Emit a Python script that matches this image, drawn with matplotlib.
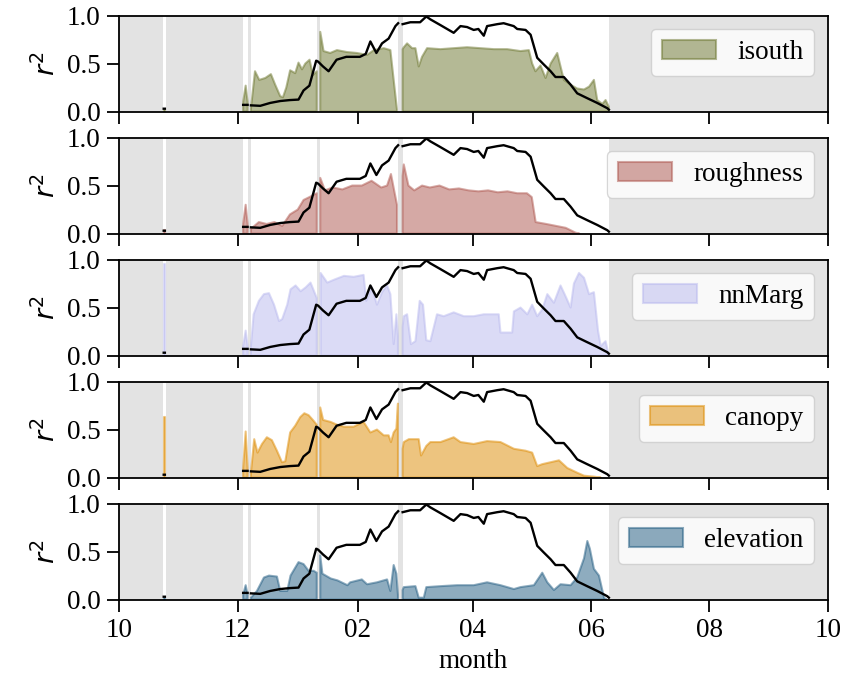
import numpy as np
import matplotlib
matplotlib.use("Agg")
import matplotlib.pyplot as plt
import matplotlib.dates as mdates
import datetime as dt

nan = np.nan

# days since 2018-10-01
start = dt.datetime(2018, 10, 1)
end = dt.datetime(2019, 10, 1)

# periods with no data (shaded grey), in days since start
nodata_spans = [(0, 22.6), (24.0, 63.8), (66.4, 67.8), (101.9, 103.5), (143.8, 146.0), (252.3, 366)]

# normalised reference curve (black line)
line_day = [23.0, 23.6, 44, 63.9, 66.2, 66.8, 67.9, 72.7, 77.8, 83, 88, 92.4, 95, 98, 101.5, 102.5,
            105, 107.9, 112, 117, 124, 127, 129.4, 132.5, 135.4, 138.8, 142.3, 143.7, 144.8, 146, 150,
            155, 158.2, 160.3, 165.5, 172.3, 175.8, 179.2, 182.6, 185, 187.8, 189.5, 194.7, 198, 203.2,
            205, 209.3, 211.9, 215.3, 218.7, 222.2, 224.7, 229, 232.5, 235.9, 241, 246.2, 251.4, 252.2]
line_val = [0.03, 0.03, nan, 0.07, 0.07, nan, 0.065, 0.06, 0.09, 0.11, 0.12, 0.125, 0.22, 0.27, 0.53,
            0.52, 0.47, 0.42, 0.54, 0.57, 0.57, 0.60, 0.73, 0.61, 0.71, 0.76, 0.89, 0.92, nan, 0.91, 0.93,
            0.93, 0.99, 0.96, 0.90, 0.82, 0.89, 0.88, 0.85, 0.86, 0.79, 0.89, 0.91, 0.92, 0.89, 0.86, 0.85,
            0.80, 0.56, 0.49, 0.42, 0.36, 0.36, 0.28, 0.19, 0.14, 0.09, 0.035, 0.02]

isouth_day = [23.0, 23.6, 44, 63.9, 65.2, 66.2, 66.8, 67.9, 70, 72.2, 75.3, 78.2, 80.4, 83, 84.4, 86.1,
              88.1, 90.7, 92.4, 94.2, 95.9, 98.1, 99.8, 101.8, 102.7, 103.6, 105.3, 108.7, 112.2,
              117.3, 122.5, 127.7, 131.2, 136.3, 139.7, 141.4, 143.1, 144.8, 146.0, 146.6, 148.3,
              150.9, 152.6, 154.3, 156, 158.6, 165.5, 172.3, 179.2, 186.1, 193, 199.8, 206.7, 211,
              212.7, 214.4, 217, 219.6, 222.2, 225.6, 227.3, 229, 232.5, 235.9, 239.4, 242, 244.5,
              246.2, 248.8, 250.5, 252.2]
isouth_r2 = [0.02, 0.02, nan, 0.1, 0.27, 0.1, nan, 0.03, 0.42, 0.33, 0.35, 0.39, 0.28, 0.16, 0.15, 0.25,
             0.43, 0.40, 0.51, 0.44, 0.50, 0.54, 0.38, 0.42, nan, 0.83, 0.63, 0.61, 0.64, 0.62, 0.61,
             0.59, 0.64, 0.66, 0.64, 0.33, 0.02, nan, 0.65, 0.67, 0.71, 0.66, 0.66, 0.47, 0.57, 0.66,
             0.65, 0.66, 0.67, 0.66, 0.65, 0.65, 0.63, 0.64, 0.50, 0.42, 0.48, 0.35, 0.50, 0.61, 0.47,
             0.33, 0.28, 0.24, 0.23, 0.26, 0.33, 0.12, 0.08, 0.12, 0.05]

roughness_day = [23.0, 23.6, 44, 63.9, 65.2, 66.2, 66.8, 67.9, 72, 76, 80, 84, 88, 92, 95, 98, 101.8,
                 102.7, 103.6, 106, 110, 115, 120, 125, 130, 135, 138, 140, 143.1, 144.8, 146.0, 146.6,
                 149, 152, 156, 160, 165, 170, 175, 180, 185, 190, 195, 200, 205, 210, 212.5, 214.5,
                 220, 225, 230, 233, 235, 237]
roughness_r2 = [0.04, 0.04, nan, 0.1, 0.3, 0.1, nan, 0.05, 0.12, 0.1, 0.12, 0.08, 0.2, 0.25, 0.35, 0.38,
                0.42, nan, 0.58, 0.45, 0.48, 0.46, 0.5, 0.5, 0.55, 0.48, 0.5, 0.62, 0.3, nan, 0.6, 0.72,
                0.5, 0.45, 0.5, 0.48, 0.5, 0.46, 0.47, 0.45, 0.44, 0.45, 0.43, 0.44, 0.42, 0.42, 0.38,
                0.12, 0.1, 0.08, 0.06, 0.03, 0.01, 0.0]

nnmarg_day = [23.0, 23.6, 44, 63.9, 65.2, 66.2, 66.8, 67.9, 69.3, 72, 74.6, 77.2, 79.8, 82.4, 84, 86.6,
              88.3, 90.9, 93.5, 96.1, 98.6, 100.4, 101.8, 102.7, 103.8, 107.2, 110.7, 115.8, 120.8,
              125.9, 127.3, 130.2, 132.8, 135.4, 138, 139.7, 141.4, 142.8, 143.6, 144.8, 146.0, 146.6,
              148.3, 150.3, 152.6, 154.8, 156.5, 158.2, 160.3, 163.7, 167.2, 172.3, 177.5, 182.6,
              187.8, 195.5, 196.4, 202.4, 203.3, 206.7, 210.2, 212.7, 215.3, 217.9, 220.5, 223.9,
              227.3, 229.4, 232.5, 234.2, 236.8, 239.4, 242, 244.5, 246.6, 248, 250.5, 252.2]
nnmarg_r2 = [0.95, 0.95, nan, 0.1, 0.26, 0.1, nan, 0.1, 0.43, 0.57, 0.64, 0.65, 0.53, 0.36, 0.38, 0.53,
             0.69, 0.73, 0.67, 0.71, 0.76, 0.67, 0.6, nan, 0.86, 0.76, 0.79, 0.83, 0.82, 0.84, 0.57,
             0.71, 0.53, 0.66, 0.73, 0.64, 0.12, 0.43, 0.2, nan, 0.3, 0.41, 0.43, 0.12, 0.15, 0.57,
             0.53, 0.16, 0.15, 0.43, 0.41, 0.45, 0.41, 0.41, 0.43, 0.43, 0.24, 0.24, 0.46, 0.50, 0.43,
             0.53, 0.41, 0.48, 0.64, 0.55, 0.73, 0.64, 0.5, 0.75, 0.86, 0.81, 0.64, 0.66, 0.26, 0.1,
             0.15, 0.0]

canopy_day = [23.0, 23.6, 44, 63.9, 65.2, 66.2, 66.8, 67.9, 69.6, 71.3, 73.6, 76.1, 78.7, 81.3, 83.9,
              85.6, 88.1, 90.7, 93.3, 95.4, 97.6, 99.8, 101.8, 102.7, 103.6, 105.1, 108.9, 112.3,
              115.8, 120.8, 125.9, 129.4, 132.8, 136.3, 138.8, 140, 141.4, 142.8, 143.6, 144.8, 146.0,
              146.6, 149.2, 154.3, 155.5, 158.2, 160.3, 165.5, 172.3, 175.8, 182.6, 189.5, 196.4,
              203.3, 209.3, 212.7, 215.3, 217.9, 222.2, 226.5, 230.8, 236, 239.4, 244.5, 248]
canopy_r2 = [0.63, 0.63, nan, 0.1, 0.48, 0.1, nan, 0.05, 0.40, 0.26, 0.35, 0.42, 0.39, 0.28, 0.16, 0.17,
             0.47, 0.54, 0.63, 0.67, 0.65, 0.60, 0.55, nan, 0.73, 0.60, 0.58, 0.55, 0.53, 0.53, 0.58,
             0.47, 0.50, 0.44, 0.44, 0.37, 0.47, 0.51, 0.77, nan, 0.3, 0.37, 0.40, 0.40, 0.23, 0.33,
             0.37, 0.37, 0.42, 0.37, 0.35, 0.38, 0.37, 0.30, 0.28, 0.26, 0.12, 0.14, 0.16, 0.18, 0.10,
             0.05, 0.02, 0.01, 0.0]

elevation_day = [23.0, 23.6, 44, 63.9, 65.2, 66.2, 66.8, 67.9, 71, 74.6, 77.2, 81.3, 83, 86.6, 88.3,
                 92.4, 95, 97.6, 100.2, 101.8, 102.7, 103.6, 104.7, 109, 112.5, 117.6, 119, 125, 127.7,
                 132.8, 138, 139.7, 141.4, 142.8, 143.6, 144.8, 146.0, 146.6, 152.6, 154.3, 156.9,
                 158.2, 165.5, 174.1, 182.6, 189.5, 196.4, 203.3, 206.7, 213.6, 217.9, 220.5, 223.9,
                 227.3, 232.5, 235.9, 239.4, 241.1, 242.4, 244.5, 247.1, 249.7, 251]
elevation_r2 = [0.02, 0.02, nan, 0.05, 0.15, 0.05, nan, 0.02, 0.09, 0.23, 0.25, 0.24, 0.09, 0.09, 0.25,
                0.39, 0.37, 0.30, 0.30, 0.28, nan, 0.46, 0.27, 0.22, 0.20, 0.15, 0.18, 0.21, 0.16,
                0.18, 0.21, 0.09, 0.36, 0.27, 0.05, nan, 0.1, 0.13, 0.14, 0.02, 0.02, 0.13, 0.14, 0.15,
                0.15, 0.18, 0.15, 0.11, 0.13, 0.15, 0.28, 0.18, 0.10, 0.16, 0.15, 0.23, 0.43, 0.61,
                0.53, 0.32, 0.25, 0.02, 0.0]

names = ["isouth", "roughness", "nnMarg", "canopy", "elevation"]
days = [isouth_day, roughness_day, nnmarg_day, canopy_day, elevation_day]
values = [isouth_r2, roughness_r2, nnmarg_r2, canopy_r2, elevation_r2]
colors = ["#6b752d", "#ad554d", "#b8b8ee", "#dd8a00", "#1f5a80"]

plt.rcParams["font.family"] = ["Liberation Serif", "DejaVu Serif"]
plt.rcParams["font.size"] = 19.5
plt.rcParams["axes.linewidth"] = 1.3

t0 = mdates.date2num(start)


def to_x(d):
    return t0 + np.asarray(d, dtype=float)


fig = plt.figure(figsize=(8.46, 6.9), dpi=100)
axes = fig.subplots(5, 1, sharex=True)
fig.subplots_adjust(left=0.1407, right=0.9787, top=0.9775, bottom=0.131, hspace=0.27)

for i, ax in enumerate(axes):
    for a, b in nodata_spans:
        ax.axvspan(t0 + a, t0 + b, color="#e3e3e3", lw=0, zorder=0)
    ax.fill_between(to_x(days[i]), 0, np.array(values[i], dtype=float),
                    color=colors[i], alpha=0.5, lw=1.5, label=names[i], zorder=2)
    ax.plot(to_x(line_day), line_val, color="black", lw=1.7, zorder=3)
    ax.set_ylim(0, 1)
    ax.set_yticks([0, 0.5, 1.0])
    ax.set_ylabel("$r^2$")
    ax.tick_params(length=8.5, width=1.3, pad=5)
    ax.legend(loc="upper right")

axes[-1].set_xlim(mdates.date2num(start), mdates.date2num(end))
axes[-1].xaxis.set_major_locator(mdates.MonthLocator(bymonth=[2, 4, 6, 8, 10, 12]))
axes[-1].xaxis.set_major_formatter(mdates.DateFormatter("%m"))
axes[-1].set_xlabel("month")

fig.savefig("out.png", dpi=100)
